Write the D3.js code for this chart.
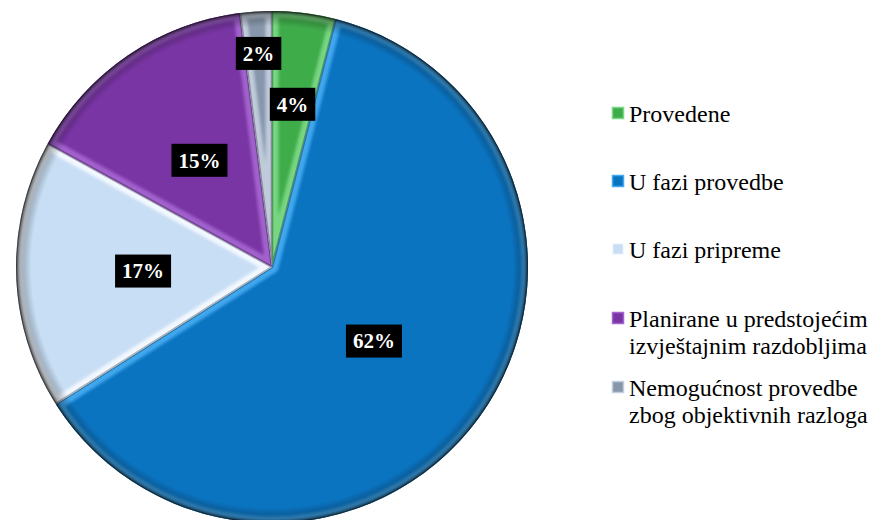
<!DOCTYPE html>
<html><head><meta charset="utf-8">
<script src="https://cdn.jsdelivr.net/npm/d3@7/dist/d3.min.js"></script>
<style>html,body{margin:0;padding:0;background:#fff;}svg{display:block;}</style>
</head><body>
<svg id="chart" width="874" height="520"></svg>
<script>
const categories = ["Provedene", "U fazi provedbe", "U fazi pripreme", "Planirane u predstojećim izvještajnim razdobljima", "Nemogućnost provedbe zbog objektivnih razloga"];
const legendLines = [["Provedene"], ["U fazi provedbe"], ["U fazi pripreme"], ["Planirane u predstojećim", "izvještajnim razdobljima"], ["Nemogućnost provedbe", "zbog objektivnih razloga"]];
const values = [4, 62, 17, 15, 2];
const colors = ["#3fac4a", "#0b74c1", "#c8def4", "#7a35a5", "#8796ab"];
const bevel = ["#7ad884", "#45aaf0", "#f4f9ff", "#a465cf", "#c2cedd"];

const svg = d3.select("#chart");
const cx = 272, cy = 267, R = 256;
const defs = svg.append("defs");
const FONT = "Liberation Serif";

const pie = d3.pie().sort(null).value(d => d)(values);
const arc = d3.arc().innerRadius(0).outerRadius(R);

const rg = defs.append("radialGradient").attr("id", "rim").attr("gradientUnits", "userSpaceOnUse")
  .attr("cx", 0).attr("cy", 0).attr("r", R);
rg.append("stop").attr("offset", "0.94").attr("stop-color", "#000").attr("stop-opacity", 0);
rg.append("stop").attr("offset", "0.985").attr("stop-color", "#000").attr("stop-opacity", 0.3);
rg.append("stop").attr("offset", "1").attr("stop-color", "#000").attr("stop-opacity", 0.7);

defs.append("filter").attr("id", "blur").append("feGaussianBlur").attr("stdDeviation", 1.4);

const g = svg.append("g").attr("transform", `translate(${cx},${cy})`);

pie.forEach((d, i) => {
  const p = arc(d);
  defs.append("clipPath").attr("id", "clip" + i).append("path").attr("d", p);
  g.append("path").attr("d", p).attr("fill", colors[i]);
  const sg = g.append("g").attr("clip-path", `url(#clip${i})`);
  sg.append("path").attr("d", p).attr("fill", "none").attr("stroke", bevel[i])
    .attr("stroke-width", 13).attr("stroke-linejoin", "miter").attr("filter", "url(#blur)").attr("opacity", 0.95);
  sg.append("path").attr("d", p).attr("fill", "none").attr("stroke", "#000")
    .attr("stroke-width", 2.5).attr("opacity", 0.3);
});
g.append("circle").attr("r", R).attr("fill", "url(#rim)");

// labels
const labelR = [164, 126, 129, 129, 214];
pie.forEach((d, i) => {
  const a = (d.startAngle + d.endAngle) / 2;
  const x = Math.sin(a) * labelR[i], y = -Math.cos(a) * labelR[i];
  const lg = g.append("g").attr("transform", `translate(${x},${y})`);
  const rect = lg.append("rect").attr("fill", "#000");
  const t = lg.append("text").attr("text-anchor", "middle").attr("dy", "0.35em")
    .attr("font-family", FONT).attr("font-weight", "bold")
    .attr("font-size", 21).attr("fill", "#fff").text(values[i] + "%");
  const w = t.node().getComputedTextLength() + 14;
  rect.attr("x", -w / 2).attr("y", -16.5).attr("width", w).attr("height", 33);
});

// legend
const lgX = 612, baseY = [122, 190, 258, 327, 396], lineH = 27;
legendLines.forEach((lines, i) => {
  const y = baseY[i];
  svg.append("rect").attr("x", lgX + 0.5).attr("y", y - 14.5).attr("width", 11).attr("height", 11)
    .attr("fill", colors[i]).attr("stroke", bevel[i]).attr("stroke-width", 1.5);
  const t = svg.append("text").attr("x", lgX + 17).attr("y", y)
    .attr("font-family", FONT).attr("font-size", 24).attr("fill", "#000");
  lines.forEach((l, j) => t.append("tspan").attr("x", lgX + 17).attr("dy", j === 0 ? 0 : lineH).text(l));
});
</script>
</body></html>
